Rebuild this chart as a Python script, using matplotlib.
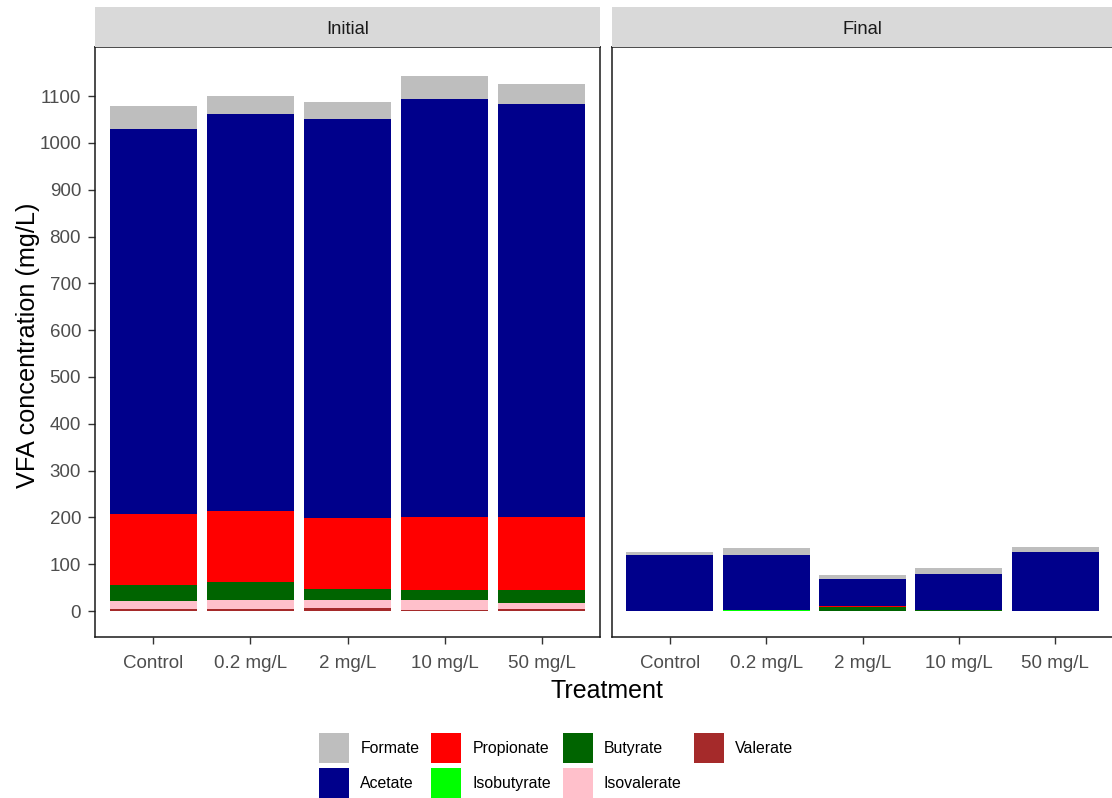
import matplotlib
matplotlib.use("Agg")
import matplotlib.pyplot as plt
from matplotlib.patches import Patch
import numpy as np

plt.rcParams['font.family'] = ['Liberation Sans', 'DejaVu Sans']

treatments = ["Control", "0.2 mg/L", "2 mg/L", "10 mg/L", "50 mg/L"]
panels = ["Initial", "Final"]

# stacking order, bottom to top
acids = ["Valerate", "Isovalerate", "Butyrate", "Isobutyrate", "Propionate", "Acetate", "Formate"]
colors = {
    "Formate": "#BEBEBE",
    "Acetate": "#00008B",
    "Propionate": "#FF0000",
    "Isobutyrate": "#00FF00",
    "Butyrate": "#006400",
    "Isovalerate": "#FFC0CB",
    "Valerate": "#A52A2A",
}
legend_order = ["Formate", "Acetate", "Propionate", "Isobutyrate", "Butyrate", "Isovalerate", "Valerate"]

# concentrations in mg/L, one value per treatment
initial_valerate = [4, 4, 7, 3, 5]
initial_isovalerate = [17, 19.5, 16.5, 20, 12]
initial_butyrate = [35, 38.5, 23.5, 21, 27]
initial_isobutyrate = [0, 0, 0, 0, 0]
initial_propionate = [152, 152, 152, 157, 157]
initial_acetate = [822, 847, 852, 892, 883]
initial_formate = [50, 40, 37, 50, 43]

final_valerate = [0, 0, 0, 0, 0]
final_isovalerate = [0, 0, 0, 0, 0]
final_butyrate = [0, 0, 8, 2, 0]
final_isobutyrate = [0, 3, 0, 0, 0]
final_propionate = [0, 0, 2, 0, 0]
final_acetate = [119, 117, 58, 77, 126]
final_formate = [7, 14, 9, 13, 10]

data = {
    "Initial": {
        "Valerate": initial_valerate, "Isovalerate": initial_isovalerate,
        "Butyrate": initial_butyrate, "Isobutyrate": initial_isobutyrate,
        "Propionate": initial_propionate, "Acetate": initial_acetate,
        "Formate": initial_formate,
    },
    "Final": {
        "Valerate": final_valerate, "Isovalerate": final_isovalerate,
        "Butyrate": final_butyrate, "Isobutyrate": final_isobutyrate,
        "Propionate": final_propionate, "Acetate": final_acetate,
        "Formate": final_formate,
    },
}

W, H = 1112, 798
fig = plt.figure(figsize=(W / 100, H / 100), dpi=100)

def fx(px):
    return px / W

def fy(px):
    return 1 - px / H

panel_top, panel_bot = 47, 637
strip_top = 7
lefts = [95, 612]
rights = [600, 1113]

tick_col = "#4D4D4D"
ylim = (-55.5, 1205)

for i, name in enumerate(panels):
    ax = fig.add_axes([fx(lefts[i]), fy(panel_bot), fx(rights[i] - lefts[i]),
                       (panel_bot - panel_top) / H])
    x = np.arange(1, len(treatments) + 1)
    bottom = np.zeros(len(treatments))
    for acid in acids:
        vals = np.array(data[name][acid], dtype=float)
        ax.bar(x, vals, width=0.9, bottom=bottom, color=colors[acid], linewidth=0)
        bottom += vals
    ax.set_xlim(0.4, 5.6)
    ax.set_ylim(*ylim)
    ax.set_xticks(x)
    ax.set_xticklabels(treatments)
    ax.set_yticks(np.arange(0, 1101, 100))
    ax.tick_params(axis="both", length=5, width=1, color="#333333",
                   labelcolor=tick_col, labelsize=13.5)
    ax.tick_params(axis="x", pad=8)
    ax.tick_params(axis="y", pad=5)
    if i == 1:
        ax.tick_params(axis="y", left=False, labelleft=False)
    for s in ax.spines.values():
        s.set_color("#1A1A1A")
        s.set_linewidth(1.1)

    sax = fig.add_axes([fx(lefts[i]), fy(panel_top), fx(rights[i] - lefts[i]),
                        (panel_top - strip_top) / H])
    sax.set_facecolor("#D9D9D9")
    sax.set_xticks([])
    sax.set_yticks([])
    for s in sax.spines.values():
        s.set_visible(False)
    sax.text(0.5, 0.44, name, ha="center", va="center", fontsize=13.2,
             color="#1A1A1A", transform=sax.transAxes)

fig.text(fx(28), fy(345), "VFA concentration (mg/L)",
         rotation=90, ha="center", va="center", fontsize=18.2, color="black")
fig.text(fx(607), fy(691), "Treatment", ha="center", va="center",
         fontsize=18, color="black")

handles = [Patch(facecolor=colors[a], edgecolor="none") for a in legend_order]
fs = 11.4
fs_px = fs * 100 / 72
key_px = 30
# square legend keys of key_px pixels
hl = key_px / fs_px
hh = (key_px / fs_px - 0.245) / 0.65
fig.legend(handles, legend_order, loc="upper center",
           bbox_to_anchor=(0.5, fy(733)), ncol=4, frameon=False,
           fontsize=fs, handlelength=hl, handleheight=hh,
           handletextpad=0.7, columnspacing=0.75, labelspacing=0.3,
           borderpad=0, borderaxespad=0)

fig.savefig("out.png", dpi=100)
